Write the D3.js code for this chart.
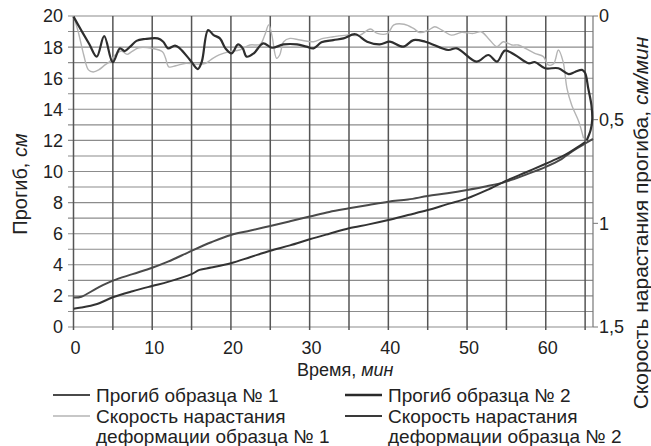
<!DOCTYPE html>
<html><head><meta charset="utf-8">
<script src="https://cdn.jsdelivr.net/npm/d3@7"></script>
<style>body{margin:0;background:#fff}svg{display:block}text{font-family:"Liberation Sans",Arial,sans-serif;fill:#222}</style>
</head><body><svg id="c" width="651" height="446"></svg>
<script>
// Deflection of specimen 1 (left axis, cm)
const defl1T = [0,1,3,5,7.5,10,12,15,17.5,20,22.5,25,27.5,30,32.5,35,37.5,40,42.5,45,47.5,50,52.5,55,57.5,60,62,63,64,65,66];
const defl1V = [1.9,1.95,2.5,2.98,3.4,3.81,4.2,4.9,5.45,5.92,6.2,6.5,6.8,7.1,7.4,7.63,7.85,8.06,8.2,8.42,8.6,8.81,9.05,9.35,9.8,10.3,10.8,11.17,11.5,11.8,12.1];
// Deflection of specimen 2 (left axis, cm)
const defl2T = [0,1,3,5,7.5,10,12,15,16,17.5,20,22.5,25,27.5,30,32.5,35,37.5,40,42.5,45,47.5,50,52.5,55,57.5,60,62,63,64,65];
const defl2V = [1.18,1.25,1.48,1.91,2.3,2.64,2.9,3.4,3.67,3.82,4.1,4.5,4.9,5.25,5.64,6.0,6.35,6.6,6.88,7.2,7.52,7.9,8.27,8.8,9.41,9.95,10.5,10.95,11.23,11.55,11.9];
// Deformation rate of specimen 1 (right axis, cm/min)
const rate1T = [0,0.6,1.3,1.9,2.5,3.2,4.0,4.6,5.3,6.1,6.8,7.4,8.3,10.0,11.3,11.7,12.1,13.0,14.3,15.5,16.8,17.7,18.5,19.8,21.1,22.4,23.7,24.3,24.8,25.2,25.8,26.2,26.7,27.5,28.8,30.5,31.7,33.0,34.7,36.4,37.7,38.6,39.9,40.7,42.0,43.2,44.0,45.1,45.9,46.8,48.0,49.3,50.8,51.8,52.7,53.8,54.6,55.7,56.5,57.4,58.6,59.7,60.3,61.0,61.6,62.2,62.7,63.3,64.2,64.8];
const rate1V = [0,0.076,0.188,0.26,0.27,0.26,0.236,0.22,0.188,0.169,0.185,0.172,0.153,0.156,0.172,0.204,0.245,0.24,0.228,0.232,0.228,0.204,0.188,0.172,0.164,0.14,0.137,0.092,0.043,0.092,0.204,0.188,0.124,0.108,0.116,0.124,0.108,0.1,0.092,0.092,0.063,0.084,0.084,0.043,0.04,0.06,0.08,0.068,0.052,0.068,0.092,0.079,0.084,0.076,0.108,0.148,0.124,0.14,0.14,0.156,0.18,0.196,0.236,0.23,0.164,0.22,0.35,0.43,0.51,0.59];
// Deformation rate of specimen 2 (right axis, cm/min)
const rate2T = [0,1,2,2.95,3.9,4.98,5.9,6.5,7.2,8.0,9.1,10.7,11.4,12.0,12.9,13.5,14.8,15.8,16.3,17.1,17.8,18.6,19.3,20.1,20.9,21.5,22.0,22.9,24.1,25.2,26.7,28.4,29.6,30.5,31.5,33.0,34.3,35.8,37.3,38.9,40.2,41.9,43.2,44.7,47.6,48.7,51.2,52.7,53.8,54.8,56.1,57.8,58.6,59.9,61.6,62.9,63.7,64.6,65.0,65.4,65.8,65.9,65.7,65.2];
const rate2V = [0.003,0.07,0.135,0.196,0.097,0.223,0.156,0.169,0.148,0.12,0.111,0.108,0.124,0.156,0.143,0.156,0.212,0.256,0.22,0.068,0.092,0.108,0.156,0.18,0.137,0.156,0.196,0.18,0.132,0.153,0.137,0.137,0.148,0.156,0.127,0.116,0.108,0.088,0.124,0.137,0.124,0.148,0.116,0.124,0.164,0.156,0.22,0.188,0.22,0.167,0.188,0.228,0.222,0.252,0.252,0.28,0.27,0.26,0.275,0.35,0.43,0.5,0.55,0.6];

const xTicks = [0,10,20,30,40,50,60];
const xGrid = [5,10,15,20,25,30,35,40,45,50,55,60,65];
const yLeftTicks = [0,2,4,6,8,10,12,14,16,18,20];
const yRightTicks = [0,0.5,1,1.5];
const yRightLabels = ["0","0,5","1","1,5"];

const svg = d3.select("#c");
const x = d3.scaleLinear().domain([0,66]).range([73.5,593]);
const yL = d3.scaleLinear().domain([0,20]).range([327,16]);
const yR = d3.scaleLinear().domain([0,1.5]).range([16,327]);

// horizontal grid every 1 cm
svg.append("g").selectAll("line").data(d3.range(0,21)).join("line")
  .attr("x1",68).attr("x2",593).attr("y1",d=>yL(d)).attr("y2",d=>yL(d))
  .attr("stroke","#8c8c8c").attr("stroke-width",1.1);
// vertical grid
svg.append("g").selectAll("line").data(xGrid).join("line")
  .attr("x1",d=>x(d)).attr("x2",d=>x(d)).attr("y1",16).attr("y2",330)
  .attr("stroke","#555").attr("stroke-width",1.5);
// borders
svg.append("line").attr("x1",x(0)).attr("x2",x(0)).attr("y1",16).attr("y2",330).attr("stroke","#555").attr("stroke-width",1.5);
svg.append("line").attr("x1",593).attr("x2",593).attr("y1",16).attr("y2",327).attr("stroke","#777").attr("stroke-width",1.2);
// right ticks
svg.append("g").selectAll("line").data(yRightTicks).join("line")
  .attr("x1",593).attr("x2",598).attr("y1",d=>yR(d)).attr("y2",d=>yR(d)).attr("stroke","#777");

// left axis labels
svg.append("g").selectAll("text").data(yLeftTicks).join("text")
  .attr("x",63).attr("y",d=>yL(d)).attr("dy","0.36em").attr("text-anchor","end")
  .attr("font-size",18).text(d=>d);
// right axis labels
svg.append("g").selectAll("text").data(yRightTicks).join("text")
  .attr("x",599).attr("y",d=>yR(d)).attr("dy","0.36em").attr("text-anchor","start")
  .attr("font-size",18).text((d,i)=>yRightLabels[i]);
// x labels
svg.append("g").selectAll("text").data(xTicks).join("text")
  .attr("x",d=>x(d)+2).attr("y",348).attr("dy","0.36em").attr("text-anchor","middle")
  .attr("font-size",18).text(d=>d);

// titles
const xt = svg.append("text").attr("x",297).attr("y",370).attr("dy","0.36em").attr("font-size",18);
xt.append("tspan").text("Время, ");
xt.append("tspan").attr("font-style","italic").text("мин");
const ylt = svg.append("text").attr("transform","translate(20,184) rotate(-90)").attr("text-anchor","middle").attr("dy","0.36em").attr("font-size",20);
ylt.append("tspan").text("Прогиб, ");
ylt.append("tspan").attr("font-style","italic").text("см");
const yrt = svg.append("text").attr("transform","translate(640,223) rotate(-90)").attr("text-anchor","middle").attr("dy","0.36em").attr("font-size",21);
yrt.append("tspan").text("Скорость нарастания прогиба, ");
yrt.append("tspan").attr("font-style","italic").text("см/мин");

// lines
const lineL = d3.line().x(d=>x(d[0])).y(d=>yL(d[1])).curve(d3.curveCatmullRom.alpha(0.5));
const lineR = d3.line().x(d=>x(d[0])).y(d=>yR(d[1])).curve(d3.curveCatmullRom.alpha(0.5));
const zip = (a,b)=>a.map((t,i)=>[t,b[i]]);

svg.append("path").attr("d",lineR(zip(rate1T,rate1V))).attr("fill","none").attr("stroke","#b4b4b4").attr("stroke-width",1.4);
svg.append("path").attr("d",lineL(zip(defl1T,defl1V))).attr("fill","none").attr("stroke","#4a4a4a").attr("stroke-width",2);
svg.append("path").attr("d",lineL(zip(defl2T,defl2V))).attr("fill","none").attr("stroke","#333").attr("stroke-width",2);
svg.append("path").attr("d",lineR(zip(rate2T,rate2V))).attr("fill","none").attr("stroke","#2e2e2e").attr("stroke-width",2.2);

// legend
const legend = [
  {x:53, y:395, color:"#4a4a4a", w:2, lines:["Прогиб образца № 1"]},
  {x:345, y:395, color:"#2a2a2a", w:2.4, lines:["Прогиб образца № 2"]},
  {x:53, y:416, color:"#b4b4b4", w:1.4, lines:["Скорость нарастания","деформации образца № 1"]},
  {x:345, y:416, color:"#3a3a3a", w:2.2, lines:["Скорость нарастания","деформации образца № 2"]}
];
const lg = svg.append("g").selectAll("g").data(legend).join("g");
lg.append("line").attr("x1",d=>d.x).attr("x2",d=>d.x+37).attr("y1",d=>d.y).attr("y2",d=>d.y)
  .attr("stroke",d=>d.color).attr("stroke-width",d=>d.w);
lg.each(function(d){
  const t = d3.select(this).append("text").attr("font-size",19);
  d.lines.forEach((s,i)=>t.append("tspan").attr("x",d.x+43).attr("y",d.y+i*20.5).attr("dy","0.35em").text(s));
});
</script></body></html>
